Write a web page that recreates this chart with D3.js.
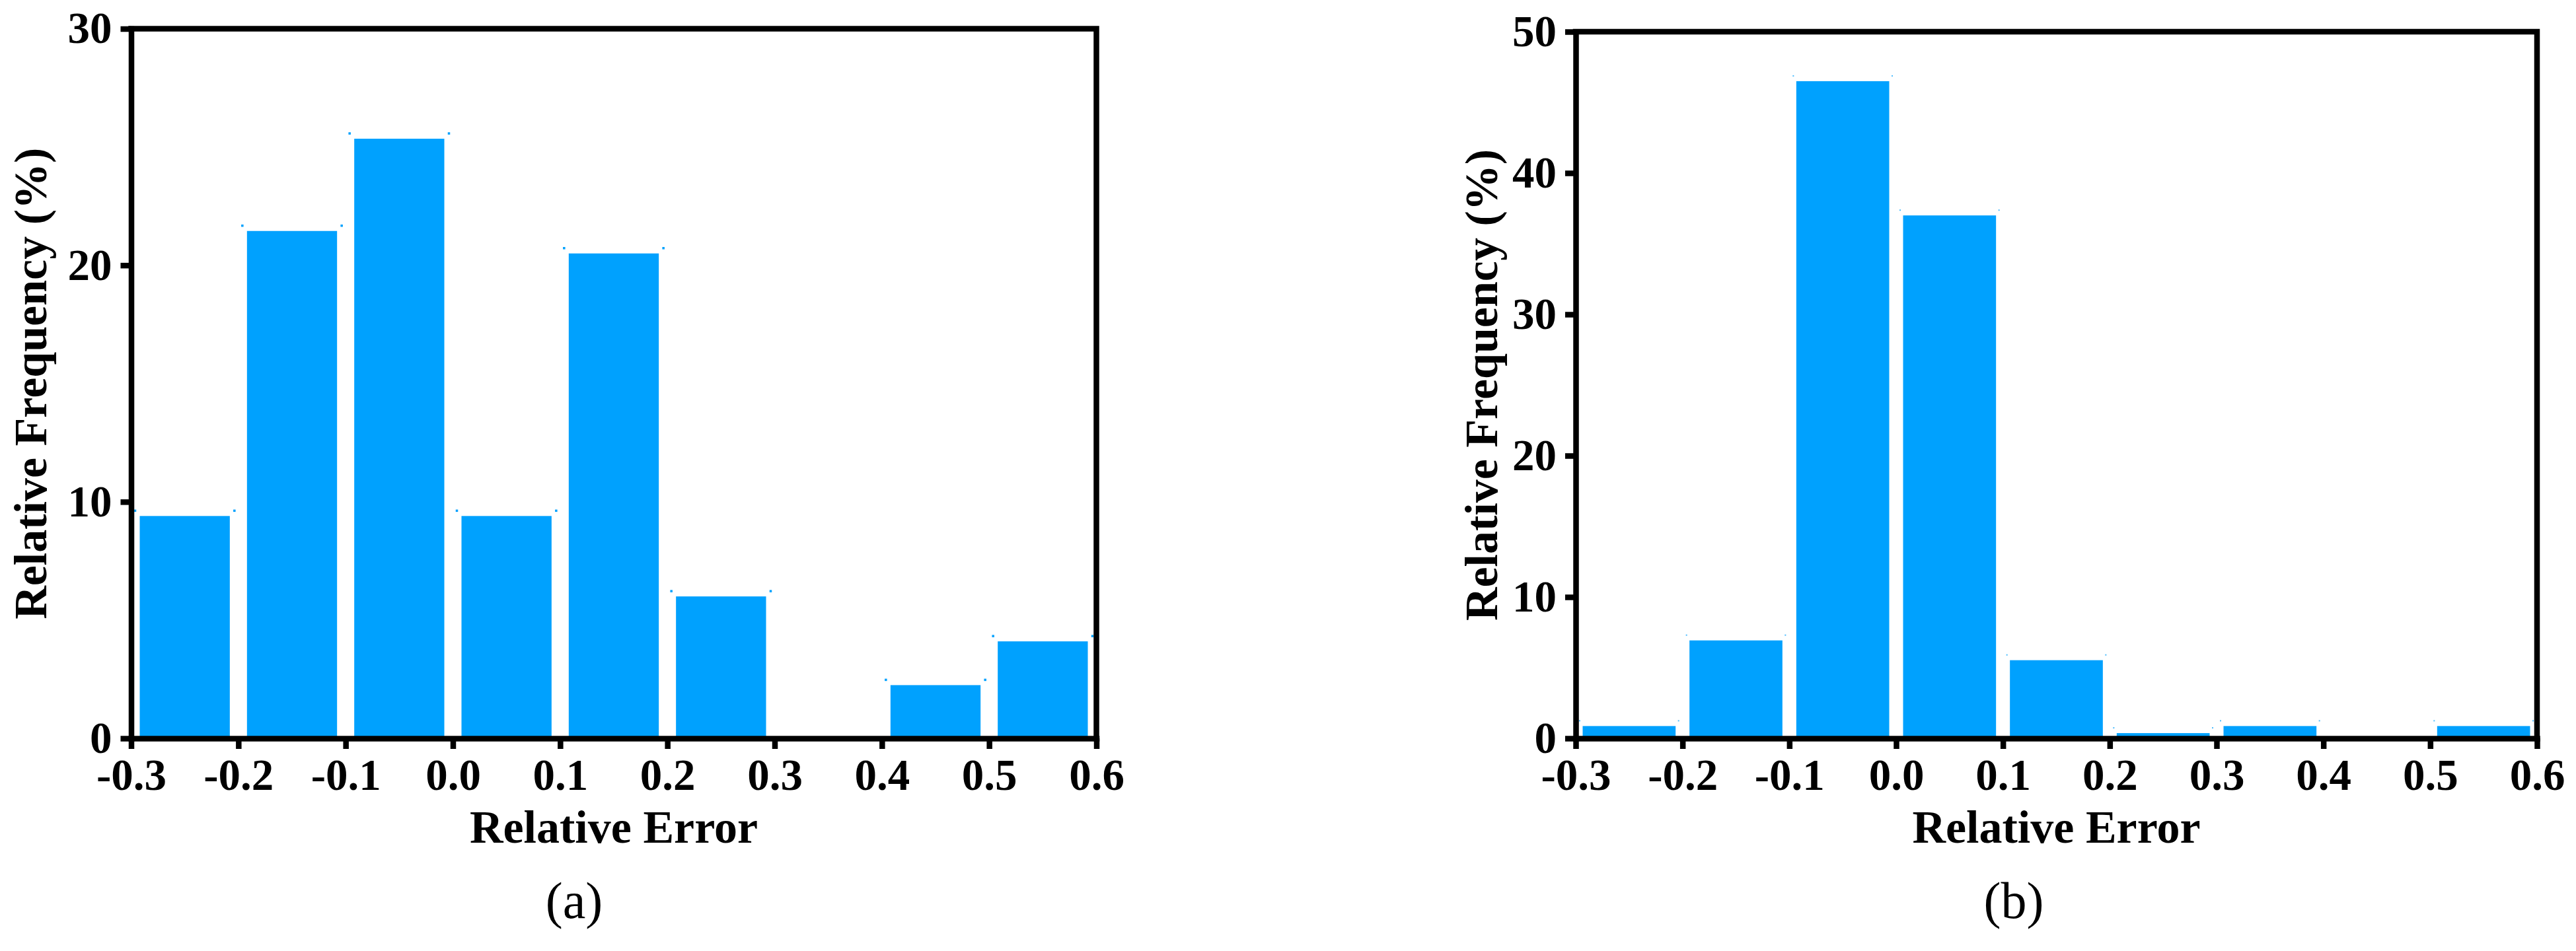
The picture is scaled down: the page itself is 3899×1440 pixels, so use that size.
<!DOCTYPE html>
<html>
<head>
<meta charset="utf-8">
<script src="https://cdn.jsdelivr.net/npm/d3@7"></script>
<style>
  html, body { margin: 0; padding: 0; background: #fff; }
  svg { display: block; }
</style>
</head>
<body>
<svg id="chart" width="3899" height="1440"></svg>
<script>
// ---------- data ----------
const binEdges = [-0.3, -0.2, -0.1, 0.0, 0.1, 0.2, 0.3, 0.4, 0.5, 0.6];
const xTickLabels = ["-0.3", "-0.2", "-0.1", "0.0", "0.1", "0.2", "0.3", "0.4", "0.5", "0.6"];
const freqA = [9.4, 21.45, 25.35, 9.4, 20.5, 6.0, 0, 2.25, 4.1];
const freqB = [0.87, 6.93, 46.5, 37.0, 5.53, 0.37, 0.87, 0, 0.87];
const yTicksA = [0, 10, 20, 30];
const yTicksB = [0, 10, 20, 30, 40, 50];
const xTitle = "Relative Error";
const yTitle = "Relative Frequency (%)";
const panelLabels = ["(a)", "(b)"];

// ---------- layout ----------
const svg = d3.select("#chart");
svg.append("rect").attr("width", 3899).attr("height", 1440).attr("fill", "#fff");

const BLUE = "#00A1FE";
const AXW = 8.5;
const serif = "'Liberation Serif', 'Times New Roman', Times, serif";

const panels = [
  { values: freqA, yTicks: yTicksA, ymax: 30, x0: 198.5, x1: 1659.5, yTop: 43.5, yBot: 1118,
    inset: 13, yLabelX: 70, label: panelLabels[0], labelX: 869, markSize: 3.5, markOpacity: 1 },
  { values: freqB, yTicks: yTicksB, ymax: 50, x0: 2385, x1: 3840, yTop: 48, yBot: 1118,
    inset: 10.5, yLabelX: 2266, label: panelLabels[1], labelX: 3048, markSize: 2, markOpacity: 0.7 }
];

panels.forEach(p => {
  const g = svg.append("g");
  const x = d3.scaleLinear().domain([binEdges[0], binEdges[binEdges.length - 1]]).range([p.x0, p.x1]);
  const y = d3.scaleLinear().domain([0, p.ymax]).range([p.yBot, p.yTop]);

  const bins = p.values.map((v, i) => ({ a: binEdges[i], b: binEdges[i + 1], v }));

  // bars
  g.selectAll("rect.bar").data(bins).join("rect")
    .attr("class", "bar")
    .attr("x", d => x(d.a) + p.inset)
    .attr("width", d => x(d.b) - x(d.a) - 2 * p.inset)
    .attr("y", d => y(d.v))
    .attr("height", d => y(0) - y(d.v))
    .attr("fill", BLUE);

  // tiny corner marks above bar tops
  const marks = [];
  bins.filter(d => d.v > 0).forEach(d => {
    marks.push({ cx: x(d.a) + 6, cy: y(d.v) - 8 });
    marks.push({ cx: x(d.b) - 6, cy: y(d.v) - 8 });
  });
  g.selectAll("rect.mk").data(marks).join("rect")
    .attr("class", "mk")
    .attr("x", d => d.cx - p.markSize / 2)
    .attr("y", d => d.cy - p.markSize / 2)
    .attr("width", p.markSize).attr("height", p.markSize)
    .attr("fill", BLUE).attr("opacity", p.markOpacity);

  // frame (top + right)
  g.append("path")
    .attr("d", `M${p.x0},${p.yTop}H${p.x1}V${p.yBot}`)
    .attr("fill", "none").attr("stroke", "#000").attr("stroke-width", AXW)
    .attr("stroke-linecap", "square");

  // x axis
  const xAxis = d3.axisBottom(x).tickValues(binEdges)
    .tickFormat((d, i) => xTickLabels[i]).tickSize(16).tickSizeOuter(0).tickPadding(14);
  const gx = g.append("g").attr("transform", `translate(0,${p.yBot})`).call(xAxis);
  gx.select(".domain").attr("stroke-width", AXW).attr("stroke-linecap", "square");
  gx.selectAll(".tick line").attr("stroke-width", AXW);
  gx.selectAll(".tick text").attr("font-family", serif).attr("font-weight", "bold")
    .attr("font-size", 67).attr("fill", "#000");

  // y axis
  const yAxis = d3.axisLeft(y).tickValues(p.yTicks).tickFormat(d3.format("d"))
    .tickSize(16).tickSizeOuter(0).tickPadding(13);
  const gy = g.append("g").attr("transform", `translate(${p.x0},0)`).call(yAxis);
  gy.select(".domain").attr("stroke-width", AXW).attr("stroke-linecap", "square");
  gy.selectAll(".tick line").attr("stroke-width", AXW);
  gy.selectAll(".tick text").attr("font-family", serif).attr("font-weight", "bold")
    .attr("font-size", 67).attr("fill", "#000");
  gx.attr("font-family", null); gy.attr("font-family", null);

  // axis titles
  g.append("text")
    .attr("x", (p.x0 + p.x1) / 2).attr("y", 1276)
    .attr("text-anchor", "middle")
    .attr("font-family", serif).attr("font-weight", "bold").attr("font-size", 70)
    .text(xTitle);

  g.append("text")
    .attr("transform", `translate(${p.yLabelX},${(p.yTop + p.yBot) / 2}) rotate(-90)`)
    .attr("text-anchor", "middle")
    .attr("font-family", serif).attr("font-weight", "bold").attr("font-size", 70)
    .text(yTitle);

  // panel label
  g.append("text")
    .attr("x", p.labelX).attr("y", 1390)
    .attr("text-anchor", "middle")
    .attr("font-family", serif).attr("font-size", 78)
    .text(p.label);
});
</script>
</body>
</html>
